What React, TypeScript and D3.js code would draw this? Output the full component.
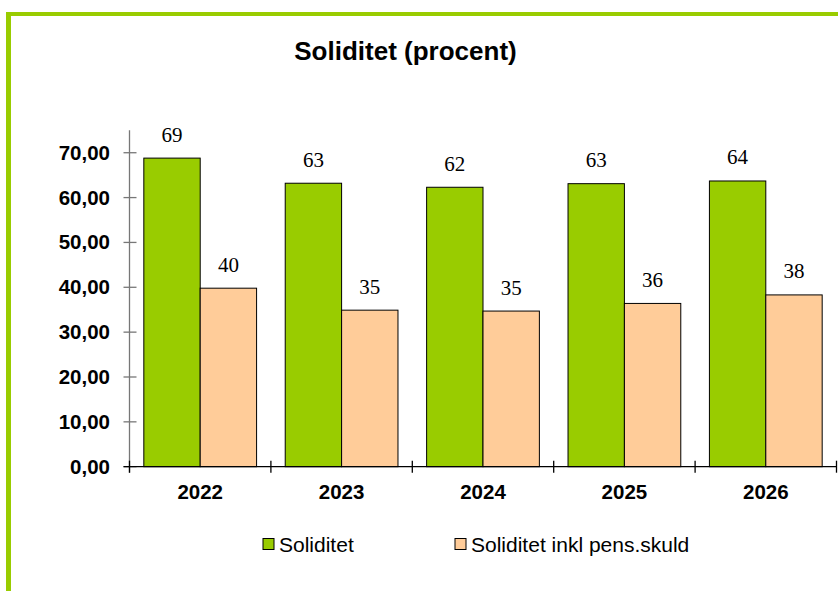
import React from "react";
import * as d3 from "d3";

const years = ["2022", "2023", "2024", "2025", "2026"];
const seriesNames = ["Soliditet", "Soliditet inkl pens.skuld"];
const soliditet = [68.8, 63.2, 62.3, 63.1, 63.7];
const soliditetPens = [39.8, 34.9, 34.7, 36.4, 38.3];
const dataLabels = [
  ["69", "63", "62", "63", "64"],
  ["40", "35", "35", "36", "38"],
];
const yTicks = [0, 10, 20, 30, 40, 50, 60, 70];
const colors = ["#99CC00", "#FFCC99"];

const W = 838;
const H = 591;
const left = 129.5;
const right = 836.5;
const top = 130.3;
const bottom = 466.7;

export default function App() {
  const x = d3.scaleBand<string>().domain(years).range([left, right]).padding(0);
  const inner = d3
    .scaleBand<number>()
    .domain([0, 1])
    .range([0, x.bandwidth()])
    .paddingInner(0)
    .paddingOuter(0.254);
  const y = d3.scaleLinear().domain([0, 75]).range([bottom, top]);
  const series = [soliditet, soliditetPens];
  const fmt = (v: number) => d3.format(".2f")(v).replace(".", ",");
  const sans = "'Liberation Sans', Arial, sans-serif";
  const serif = "'Liberation Serif', 'Times New Roman', serif";

  return (
    <svg
      width={W}
      height={H}
      style={{ position: "absolute", left: 0, top: 0, display: "block" }}
    >
      <rect x={0} y={0} width={W} height={H} fill="#fff" />
      <rect x={6} y={12} width={5} height={H} fill="#99CC00" />
      <rect x={6} y={12} width={W} height={4} fill="#99CC00" />

      <text
        x={405.5}
        y={59.5}
        textAnchor="middle"
        fontFamily={sans}
        fontWeight="bold"
        fontSize={26}
        fill="#000"
      >
        Soliditet (procent)
      </text>

      {/* bars */}
      {series.map((vals, si) =>
        years.map((yr, i) => {
          const bx = (x(yr) as number) + (inner(si) as number);
          const bw = inner.bandwidth();
          const by = y(vals[i]);
          return (
            <g key={`${si}-${yr}`}>
              <rect
                x={bx}
                y={by}
                width={bw}
                height={bottom - by}
                fill={colors[si]}
                stroke="#000"
                strokeWidth={1}
              />
              <text
                x={bx + bw / 2}
                y={by - 16.5}
                textAnchor="middle"
                fontFamily={serif}
                fontSize={21}
                fill="#000"
              >
                {dataLabels[si][i]}
              </text>
            </g>
          );
        })
      )}

      {/* y axis */}
      <line x1={left} x2={left} y1={top} y2={bottom + 6} stroke="#777" strokeWidth={1.3} />
      {yTicks.map((t) => (
        <g key={t}>
          <line x1={left - 6} x2={left + 7} y1={y(t)} y2={y(t)} stroke="#777" strokeWidth={1.3} />
          <text
            x={110}
            y={y(t) + 7}
            textAnchor="end"
            fontFamily={sans}
            fontWeight="bold"
            fontSize={20.5}
            fill="#000"
          >
            {fmt(t)}
          </text>
        </g>
      ))}

      {/* x axis */}
      <line x1={left - 6} x2={right} y1={bottom} y2={bottom} stroke="#000" strokeWidth={1.3} />
      {[...years.map((yr) => x(yr) as number), right].map((px, i) => (
        <line key={i} x1={px} x2={px} y1={bottom - 6} y2={bottom + 6} stroke="#000" strokeWidth={1.3} />
      ))}
      {years.map((yr) => (
        <text
          key={yr}
          x={(x(yr) as number) + x.bandwidth() / 2}
          y={499}
          textAnchor="middle"
          fontFamily={sans}
          fontWeight="bold"
          fontSize={20.5}
          fill="#000"
        >
          {yr}
        </text>
      ))}

      {/* legend */}
      {seriesNames.map((name, i) => {
        const lx = [263, 455][i];
        return (
          <g key={name}>
            <rect x={lx} y={538.5} width={11} height={11} fill={colors[i]} stroke="#000" strokeWidth={1} />
            <text x={lx + 16} y={552} fontFamily={sans} fontSize={21} fill="#000">
              {name}
            </text>
          </g>
        );
      })}
    </svg>
  );
}
